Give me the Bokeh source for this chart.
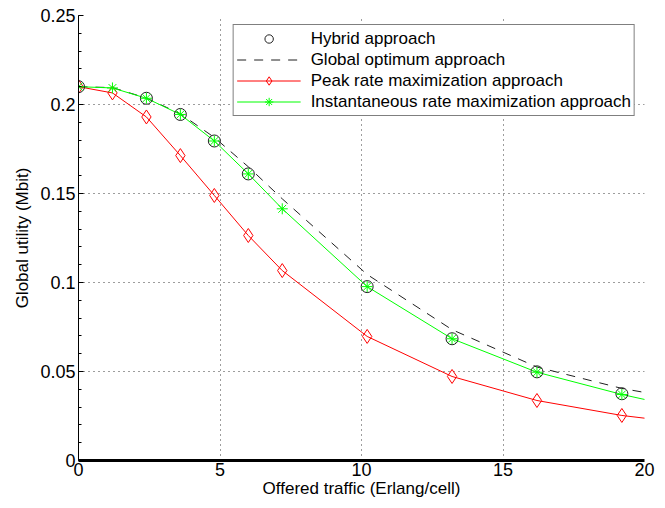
from bokeh.plotting import figure
from bokeh.models import Range1d, Legend, LegendItem, FixedTicker
from bokeh.embed import file_html
from bokeh.resources import INLINE
import numpy as np

# ---- data ----
x_hybrid = [0, 2.4, 3.6, 4.8, 6.0, 10.2, 13.2, 16.2, 19.2]
y_hybrid = [0.2100, 0.2035, 0.1944, 0.1795, 0.1610, 0.0977, 0.0684, 0.0498, 0.0375]

x_opt = [0, 1.2, 2.4, 3.6, 4.8, 6.0, 7.2, 8.4, 10.2, 13.2, 16.2, 19.2, 22.2]
y_opt = [0.2100, 0.2095, 0.2036, 0.1948, 0.1815, 0.1650, 0.1470, 0.1300, 0.1045, 0.0735, 0.0525, 0.0405, 0.0320]

x_sim = [0, 1.2, 2.4, 3.6, 4.8, 6.0, 7.2, 10.2, 13.2, 16.2, 19.2, 22.2]
y_peak = [0.2100, 0.2065, 0.1930, 0.1713, 0.1489, 0.1264, 0.1067, 0.0697, 0.0472, 0.0337, 0.0253, 0.0196]
y_inst = [0.2100, 0.2093, 0.2035, 0.1944, 0.1795, 0.1610, 0.1414, 0.0977, 0.0684, 0.0496, 0.0371, 0.0266]

series_labels = [
    "Hybrid approach",
    "Global optimum approach",
    "Peak rate maximization approach",
    "Instantaneous rate maximization approach",
]
x_ticks = [0, 5, 10, 15, 20]
x_tick_labels = ["0", "5", "10", "15", "20"]
y_ticks = [0, 0.05, 0.1, 0.15, 0.2, 0.25]
y_tick_labels = ["0", "0.05", "0.1", "0.15", "0.2", "0.25"]
x_title = "Offered traffic (Erlang/cell)"
y_title = "Global utility (Mbit)"

FONT = "Liberation Sans"

p = figure(
    width=660, height=505,
    x_range=Range1d(0, 20), y_range=Range1d(0, 0.25),
    output_backend="svg", toolbar_location=None,
    min_border_left=78, min_border_right=16, min_border_top=15, min_border_bottom=45,
)
p.outline_line_color = None
p.background_fill_color = "white"
p.border_fill_color = "white"

# axes
p.xaxis.ticker = FixedTicker(ticks=x_ticks)
p.xaxis.major_label_overrides = {t: l for t, l in zip(x_ticks, x_tick_labels)}
p.yaxis.ticker = FixedTicker(ticks=y_ticks, minor_ticks=list(np.round(np.arange(0, 0.2501, 0.01), 3)))
p.yaxis.major_label_overrides = {t: l for t, l in zip(y_ticks, y_tick_labels)}
p.xaxis.axis_label = x_title
p.yaxis.axis_label = y_title
for ax in (p.xaxis[0], p.yaxis[0]):
    ax.axis_label_text_font = FONT
    ax.axis_label_text_font_size = "17px"
    ax.axis_label_text_font_style = "normal"
    ax.axis_label_text_color = "black"
    ax.major_label_text_font = FONT
    ax.major_label_text_font_size = "18px"
    ax.major_label_text_color = "black"
    ax.axis_line_color = "black"
    ax.major_tick_line_color = "black"
    ax.minor_tick_line_color = "black"
    ax.major_tick_out = 0
    ax.minor_tick_out = 0

p.xaxis.axis_line_width = 3
p.xaxis.major_tick_in = 0
p.xaxis.minor_tick_line_color = None
p.xaxis.major_label_standoff = 2
p.xaxis.axis_label_standoff = 0
p.yaxis.axis_line_width = 1
p.yaxis.major_tick_in = 5
p.yaxis.minor_tick_in = 3
p.yaxis.major_label_standoff = 3
p.yaxis.axis_label_standoff = 5

# grid
for g in (p.xgrid[0], p.ygrid[0]):
    g.grid_line_color = "#3a3a3a"
    g.grid_line_dash = "1 4"
    g.grid_line_width = 1
p.xgrid.ticker = FixedTicker(ticks=x_ticks)
p.ygrid.ticker = FixedTicker(ticks=y_ticks)

# series
r_opt = p.line(x_opt, y_opt, line_color="#202020", line_width=1, line_dash="9 8")
r_peak_l = p.line(x_sim, y_peak, line_color="#ff0000", line_width=1)
r_peak_m = p.scatter(x_sim, y_peak, marker="diamond", size=14,
                     line_color="#ff0000", fill_color=None, line_width=1)
r_inst_l = p.line(x_sim, y_inst, line_color="#00ff00", line_width=1)
r_hyb = p.scatter(x_hybrid, y_hybrid, marker="circle", size=12,
                  line_color="#202020", fill_color=None, line_width=1)
r_inst_m = p.scatter(x_sim, y_inst, marker="asterisk", size=11,
                     line_color="#00ff00", line_width=1)

items = [
    LegendItem(label=series_labels[0], renderers=[r_hyb]),
    LegendItem(label=series_labels[1], renderers=[r_opt]),
    LegendItem(label=series_labels[2], renderers=[r_peak_l, r_peak_m]),
    LegendItem(label=series_labels[3], renderers=[r_inst_l, r_inst_m]),
]
legend = Legend(
    items=items, location="top_right", margin=9, padding=3, spacing=0,
    glyph_width=64, glyph_height=21, label_height=21, label_standoff=10,
    label_text_font=FONT, label_text_font_size="17px", label_text_color="black",
    border_line_color="black", border_line_width=1.5, background_fill_alpha=1,
)
p.add_layout(legend)

open("out.html", "w").write(file_html(p, INLINE))
